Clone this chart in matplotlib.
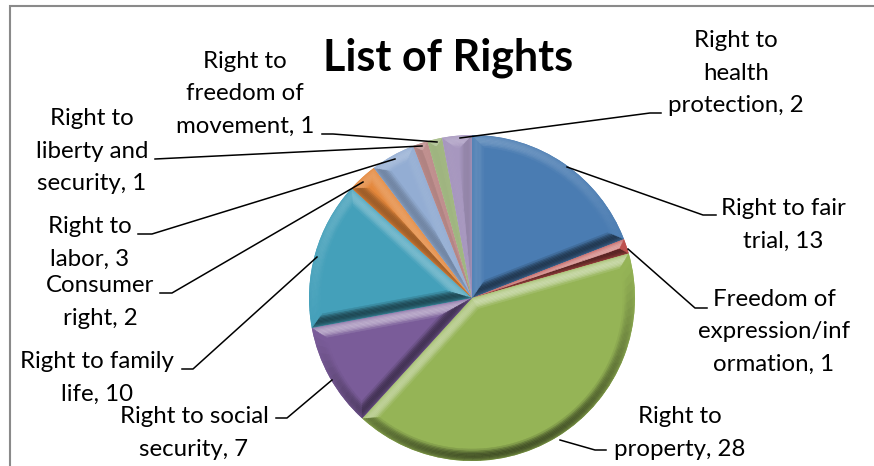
import numpy as np
import matplotlib
matplotlib.use("Agg")
import matplotlib.pyplot as plt
from matplotlib.collections import PolyCollection
from matplotlib.colors import to_rgb

plt.rcParams['font.family'] = ['Lato', 'DejaVu Sans']

# data, clockwise from 12 o'clock
names = ['Right to fair\ntrial', 'Freedom of\nexpression/inf\normation', 'Right to\nproperty',
         'Right to social\nsecurity', 'Right to family\nlife', 'Consumer\nright', 'Right to\nlabor',
         'Right to\nliberty and\nsecurity', 'Right to\nfreedom of\nmovement', 'Right to\nhealth\nprotection']
values = [13, 1, 28, 7, 10, 2, 3, 1, 1, 2]
colors = ['#4A7CB2', '#BE4F4C', '#95B456', '#7A5C99', '#44A0BA', '#E4873B', '#93ADD3', '#BF8E8D', '#A4BA84', '#A797BF']

# label centres and leader lines, in image pixels
label_pos = [(783, 225), (774, 332), (680, 433), (194, 433), (97, 378), (100, 302), (90, 243), (92, 151), (245, 94), (736, 73)]
leaders = [
    [(567, 167), (703, 215), (716, 215)],
    [(628, 249), (695, 308), (707, 308)],
    [(560, 440), (595, 450), (606, 450)],
    [(332, 380), (287, 418), (276, 418)],
    [(317, 257), (193, 369), (182, 369)],
    [(363, 182), (172, 293), (160, 293)],
    [(395, 159), (152, 234), (138, 234)],
    [(422, 146), (155, 159)],
    [(437, 142), (333, 134), (322, 134)],
    [(460, 138), (650, 113), (661, 113)],
]

W, H = 874, 466
cx, cy, R = 472, 298, 163
fig = plt.figure(figsize=(W / 100, H / 100), dpi=100, facecolor='white')

# pie lives in its own axes so radius 1 = R pixels
ax = fig.add_axes([(cx - R) / W, (H - cy - R) / H, 2 * R / W, 2 * R / H])
wedges, _ = ax.pie(values, colors=colors, startangle=90, counterclock=False, radius=1, normalize=True)
ax.set_xlim(-1, 1)
ax.set_ylim(-1, 1)

# fake bevel: thin strips along each wedge edge, shaded by which way they face
bevel = 12 / R
layers = 9
light = np.array([-0.22, 0.975])


def shade(base, normal, t, lit=0.5):
    s = float(np.dot(normal, light))
    amount = np.sin(np.pi * (t + 0.1) / 1.1) ** 0.8
    rgb = np.array(to_rgb(base))
    if s > 0:
        return tuple(rgb + (1 - rgb) * min(lit * s * amount, 1))
    return tuple(rgb * (1 - 0.55 * -s * amount))


for w, base in zip(wedges, colors):
    a1, a2 = np.radians(w.theta1), np.radians(w.theta2)
    half = (a2 - a1) / 2
    polys, cols = [], []
    for i in range(layers):
        d0, d1 = bevel * i / layers, bevel * (i + 1) / layers
        t = (i + 0.5) / layers
        # the two straight edges, mitred at the tip and at the rim
        for ang, side in ((a1, 1), (a2, -1)):
            u = np.array([np.cos(ang), np.sin(ang)])
            n = side * np.array([-u[1], u[0]])
            start0, start1 = d0 / np.tan(half), d1 / np.tan(half)
            end0 = np.sqrt(max((1 - d0) ** 2 - d0 ** 2, 0))
            end1 = np.sqrt(max((1 - d1) ** 2 - d1 ** 2, 0))
            if start1 >= end1:
                continue
            polys.append([u * start0 + n * d0, u * end0 + n * d0, u * end1 + n * d1, u * start1 + n * d1])
            cols.append(shade(base, -n, t))
        # the rim, cut into short pieces
        r0, r1 = 1 - d0, 1 - d1
        s0, s1 = np.arcsin(d0 / r0), np.arcsin(d1 / r1)
        if a2 - a1 - 2 * s1 <= 0:
            continue
        n_seg = max(int(np.degrees(a2 - a1) / 3), 1)
        for k in range(n_seg):
            f0, f1 = k / n_seg, (k + 1) / n_seg
            q = []
            for f in (f0, f1):
                q.append(r0 * np.array([np.cos(a1 + s0 + (a2 - a1 - 2 * s0) * f), np.sin(a1 + s0 + (a2 - a1 - 2 * s0) * f)]))
            for f in (f1, f0):
                q.append(r1 * np.array([np.cos(a1 + s1 + (a2 - a1 - 2 * s1) * f), np.sin(a1 + s1 + (a2 - a1 - 2 * s1) * f)]))
            mid = a1 + (a2 - a1) * (f0 + f1) / 2
            polys.append(q)
            cols.append(shade(base, np.array([np.cos(mid), np.sin(mid)]), t, lit=0.22))
    pc = PolyCollection(polys, facecolors=cols, edgecolors=cols, linewidths=0.3, zorder=3)
    ax.add_collection(pc, autolim=False)
    pc.set_clip_path(w)

# overlay in image pixels for frame, leaders and text
top = fig.add_axes([0, 0, 1, 1], facecolor='none')
top.set_xlim(0, W)
top.set_ylim(H, 0)
top.axis('off')

top.plot([10, 10, W], [H, 6, 6], color='#8A8A8A', lw=1.5, solid_joinstyle='miter')

for line in leaders:
    top.plot([p[0] for p in line], [p[1] for p in line], color='black', lw=1.1)

for name, v, (x, y) in zip(names, values, label_pos):
    top.text(x, y, f'{name}, {v}', ha='center', va='center', fontsize=17.3, linespacing=1.68, color='black')

top.text(448, 58, 'List of Rights', ha='center', va='center', fontsize=31, fontweight='bold', color='black')

fig.savefig('out.png', dpi=100)
